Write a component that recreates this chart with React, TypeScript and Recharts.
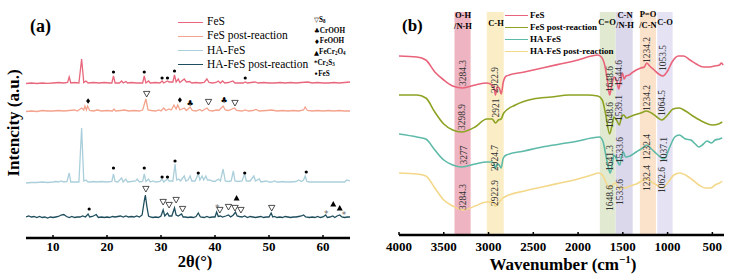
import React from 'react';
import { ComposedChart, Line, Scatter, XAxis, YAxis, ReferenceArea } from 'recharts';

// ---------------- Panel (a): XRD ----------------
const XRD_NAMES = ['FeS', 'FeS post-reaction', 'HA-FeS', 'HA-FeS post-reaction'];
const XRD_COLORS = ['#e8677c', '#f4a38d', '#aacfdb', '#1f4f5e'];
const XRD_OFFSETS = [154, 126, 55, 19];
const XRD_TICKS = [10, 20, 30, 40, 50, 60];

const xrdFeS: [number, number][] = [
  [5, 0.5], [6, 1], [7, 0.5], [8, 1], [9, 0.6], [10, 1], [11, 1.5], [12, 1], [12.7, 1.5], [13, 7], [13.3, 1],
  [14, 1.5], [14.8, 1], [15.3, 25], [15.7, 1.5], [16.1, 3], [16.5, 1], [17.5, 1.5], [18.5, 1], [19.5, 1.5],
  [20.5, 1], [20.9, 1], [21.2, 8], [21.5, 1], [22.3, 1], [22.7, 3], [23, 1], [23.5, 2.5], [23.8, 1], [24.5, 1.5],
  [25.5, 1], [26.3, 1], [26.6, 1], [26.9, 8], [27.2, 1], [27.7, 3], [28, 1], [29, 1.5], [29.8, 1], [30.2, 3],
  [30.5, 1], [31.2, 3], [31.5, 2], [32.2, 2], [32.5, 9], [32.8, 2], [33.2, 5], [33.5, 1.5], [34.3, 5], [34.7, 2],
  [35.3, 2.5], [35.7, 1], [36.5, 1.5], [37.2, 1], [38, 1.5], [38.5, 5], [38.9, 1.5], [39.5, 1], [40.2, 1.5],
  [40.6, 3], [41, 1], [41.4, 3], [41.8, 1], [42.5, 1.5], [43.3, 3], [43.7, 1], [44.5, 1], [45.2, 1], [45.6, 2],
  [46, 1], [47.4, 2], [48, 1], [49, 1.5], [50, 1], [51, 1], [52, 1.5], [53, 1], [54, 1.5], [55, 1], [56, 1.5],
  [57.2, 2], [58, 1], [59, 1.5], [60, 1], [61, 1], [62, 1.5], [63, 1], [64, 1.5], [65, 2],
];
const xrdFeSPost: [number, number][] = [
  [5, 0.5], [6, 1], [7, 0.5], [8, 1.5], [9, 1], [10, 1], [11, 1.5], [12, 1], [13, 1.5], [14, 2], [14.5, 1],
  [15.3, 4], [15.7, 2], [15.9, 6], [16.2, 2], [16.4, 6], [16.8, 1.5], [17.5, 1], [18.2, 2], [19, 1], [20, 1.5],
  [21, 1], [21.3, 3], [21.6, 1], [22.5, 1.5], [23.3, 2], [24, 1], [25, 1.5], [26, 1], [26.6, 2], [27.2, 13],
  [27.6, 2], [28.2, 1.5], [29, 1], [29.6, 2], [30, 1], [30.5, 4], [30.9, 1.5], [31.5, 3], [31.9, 2], [32.4, 7],
  [32.8, 3], [33.1, 7], [33.5, 2], [34.3, 4], [34.7, 1.5], [35.4, 5], [35.8, 1.5], [36.5, 1], [37.2, 2.5],
  [37.6, 1], [38.5, 4], [38.9, 1.5], [39.5, 1], [40.3, 2], [40.7, 1.5], [41.5, 6], [41.9, 2], [42.5, 1.5],
  [43.6, 4], [44, 1.5], [45, 1], [45.6, 2], [46.2, 1], [47, 1.5], [47.6, 2.5], [48.2, 1], [49.5, 1.5], [50.5, 2],
  [51.5, 1], [52.5, 1.5], [53.5, 1], [54.5, 1.5], [55.5, 1], [56.4, 2], [56.7, 5], [57.1, 1.5], [58, 1],
  [59, 1.5], [60, 1], [61, 1.5], [62, 1], [63, 1.5], [64, 1], [65, 1],
];
const xrdHA: [number, number][] = [
  [5, 0], [6, 0.5], [7, 0.5], [8, 1], [9, 0.5], [10, 1], [10.5, 1.5], [11, 1], [11.5, 2], [12, 1], [12.6, 1.5],
  [13, 10], [13.3, 1], [14, 1], [14.8, 1], [15.3, 55], [15.7, 2], [16.1, 3], [16.5, 1], [17, 1], [17.5, 1.5],
  [18, 1], [19, 1.5], [20, 1], [20.9, 1.5], [21.2, 9], [21.5, 1.5], [22, 1], [22.7, 5], [23, 1], [23.5, 4],
  [23.8, 1], [24.5, 1.5], [25.3, 2], [25.6, 4], [26, 1], [26.6, 1.5], [26.9, 9], [27.2, 1.5], [27.7, 4], [28, 1],
  [28.5, 2], [29, 1], [29.8, 1.5], [30.2, 4], [30.5, 1], [31.2, 4], [31.5, 2], [32.2, 2], [32.6, 19], [32.9, 3],
  [33.3, 4], [33.6, 2], [34.3, 7], [34.6, 2], [35, 3], [35.4, 7], [35.7, 2], [36.3, 2], [36.9, 9], [37.2, 3],
  [37.6, 7], [37.9, 3], [38.3, 7], [38.6, 3], [39, 3], [39.5, 2], [40, 1.5], [40.6, 4], [41, 2], [41.5, 14],
  [41.9, 2], [42.5, 1.5], [43, 2], [43.4, 12], [43.7, 2], [44.3, 1.5], [45, 2], [45.5, 9], [45.8, 2], [46.5, 2],
  [47.2, 7], [47.5, 2], [48.2, 4], [48.5, 1], [49, 1.5], [49.5, 2], [50, 1], [50.5, 1], [51, 2], [51.5, 1],
  [52, 1], [52.5, 1.5], [53, 1], [54, 1], [55, 1.5], [55.5, 3], [56, 1.5], [56.4, 3], [56.7, 7], [57, 1.5],
  [57.5, 1], [58, 1], [59, 1], [60, 1], [61, 1], [62, 1], [63, 1], [64, 1], [64.4, 3], [65, 2],
];
const xrdHAPost: [number, number][] = [
  [5, 2], [5.5, 3], [6, 2], [6.5, 2.5], [7, 1.5], [7.5, 2.5], [8, 1.5], [8.5, 2], [9, 1], [9.5, 2], [10, 1.5],
  [10.5, 2], [11, 2.5], [11.5, 4], [12, 4.5], [12.5, 2.5], [13, 1.5], [13.5, 2.5], [14, 1.5], [14.5, 2], [15, 2],
  [15.5, 3], [16, 2], [16.5, 5], [16.8, 2], [17.3, 2.5], [18, 4.5], [18.4, 1.5], [19, 2], [19.5, 1.5], [20, 2],
  [20.5, 1.5], [21, 2.5], [21.5, 2], [22, 2.5], [22.5, 3], [23, 2], [23.5, 3], [24, 2], [24.5, 2.5], [25, 2],
  [25.5, 3], [26, 2], [26.5, 4], [26.9, 18], [27.1, 24], [27.4, 12], [27.7, 3], [28, 2], [28.5, 1.5], [29, 2],
  [29.5, 1.5], [30, 3], [30.4, 9], [30.7, 3], [31.2, 6], [31.5, 3], [32, 3], [32.5, 11], [32.8, 4], [33.2, 3],
  [33.8, 5], [34.1, 2], [34.5, 2], [35, 1.5], [35.5, 2], [36, 1.5], [36.5, 2.5], [36.9, 6], [37.3, 2], [38, 1.5],
  [38.5, 2.5], [39, 1.5], [39.5, 2], [40, 2], [40.3, 7], [40.6, 2.5], [41, 3], [41.4, 2], [42, 3], [42.5, 4],
  [42.9, 2], [43.4, 4], [43.8, 7], [44.1, 3], [44.5, 2.5], [45, 2], [45.5, 3], [46, 1.5], [46.5, 2.5], [47, 2],
  [47.5, 1.5], [48, 2], [48.5, 2.5], [49, 1.5], [49.5, 2], [50, 2], [50.4, 6], [50.7, 2], [51, 2.5], [51.5, 1.5],
  [52, 2], [52.5, 1.5], [53, 2.5], [53.5, 2], [54, 1.5], [54.5, 2], [55, 2], [55.5, 2.5], [56, 3], [56.4, 4],
  [56.8, 2], [57.5, 1.5], [58, 2], [58.5, 1.5], [59, 2.5], [59.5, 1.5], [60, 2], [60.5, 4], [60.8, 1.5],
  [61.3, 2], [61.8, 3], [62.2, 1.5], [62.6, 3], [63.1, 4], [63.5, 2], [64, 1.5], [64.5, 2], [65, 2],
];
const XRD_SERIES = [xrdFeS, xrdFeSPost, xrdHA, xrdHAPost];

// phase markers: series index, 2theta, height above that pattern's offset, symbol
const xrdMarkers: [number, number, number, string][] = [
  [0, 21.2, 12, 'dot'], [0, 26.9, 12, 'dot'], [0, 30.2, 6, 'dot'], [0, 31.2, 6, 'dot'], [0, 32.5, 13, 'dot'], [0, 45.6, 6, 'dot'],
  [1, 16.5, 11, 'diamond'], [1, 27.35, 18, 'tri'], [1, 33.5, 12, 'diamond'], [1, 35.4, 9, 'club'], [1, 38.8, 10, 'tri'],
  [1, 41.7, 12, 'club'], [1, 43.7, 9, 'tri'],
  [2, 21.2, 15, 'dot'], [2, 26.9, 15, 'dot'], [2, 30.2, 6, 'dot'], [2, 31.2, 6, 'dot'], [2, 32.6, 22, 'dot'],
  [2, 36.9, 10, 'dot'], [2, 45.5, 10, 'dot'], [2, 56.9, 11, 'dot'],
  [3, 16.7, 10, 'dot'], [3, 27.2, 30, 'tri'], [3, 30.4, 17, 'tri'], [3, 31.5, 14, 'tri'], [3, 32.8, 19, 'tri'],
  [3, 34.0, 10, 'tri'], [3, 40.4, 14, 'star'], [3, 40.9, 9, 'tri'], [3, 42.5, 12, 'tri'], [3, 43.7, 11, 'tri'],
  [3, 44.0, 21, 'up'], [3, 44.8, 9, 'tri'], [3, 50.5, 11, 'tri'], [3, 60.6, 8, 'star'], [3, 61.9, 15, 'up'],
  [3, 63.1, 11, 'up'], [3, 63.9, 7, 'star'],
];

// ---------------- Panel (b): FTIR ----------------
const FTIR_NAMES = ['FeS', 'FeS post-reaction', 'HA-FeS', 'HA-FeS post-reaction'];
const FTIR_COLORS = ['#e9637a', '#8ca323', '#5dbaa8', '#f4d88a'];
const FTIR_OFFSETS = [100, 60, 25, 0];
const FTIR_TICKS = [500, 1000, 1500, 2000, 2500, 3000, 3500, 4000];

const ftirFeS: [number, number][] = [
  [4000, 79], [3800, 78], [3700, 75], [3600, 63], [3500, 55], [3400, 49], [3290, 47], [3150, 50], [3020, 52],
  [2960, 50], [2935, 46], [2922, 40], [2905, 48], [2880, 47], [2858, 41], [2835, 53], [2800, 59], [2600, 63],
  [2400, 67], [2200, 71], [2000, 75], [1850, 79], [1780, 80], [1740, 78], [1700, 69], [1670, 53], [1648, 40],
  [1625, 49], [1600, 58], [1570, 55], [1545, 46], [1525, 55], [1505, 62], [1485, 56], [1465, 59], [1430, 60],
  [1400, 62], [1350, 65], [1300, 67], [1260, 68], [1234, 72], [1200, 69], [1150, 65], [1100, 61], [1053, 59],
  [1000, 64], [950, 73], [880, 79], [820, 79], [750, 75], [680, 71], [600, 68], [540, 68], [480, 69], [420, 70],
  [400, 72], [380, 70],
];
const ftirFeSPost: [number, number][] = [
  [4000, 80], [3800, 80], [3700, 77], [3600, 63], [3500, 51], [3400, 45], [3300, 43], [3150, 48], [3020, 56],
  [2960, 56], [2921, 52], [2890, 55], [2860, 56], [2830, 62], [2700, 70], [2500, 76], [2300, 78], [2100, 80],
  [1900, 80], [1780, 79], [1730, 75], [1690, 60], [1648, 41], [1620, 50], [1600, 58], [1570, 55], [1539, 50],
  [1515, 58], [1490, 60], [1460, 57], [1400, 59], [1300, 62], [1234, 64], [1180, 62], [1120, 58], [1064, 55],
  [1000, 60], [940, 66], [870, 67], [800, 64], [700, 58], [600, 53], [500, 50], [430, 51], [390, 53],
];
const ftirHA: [number, number][] = [
  [4000, 76], [3800, 73], [3700, 71], [3600, 60], [3500, 50], [3400, 45], [3300, 43], [3150, 46], [3020, 48],
  [2960, 48], [2935, 45], [2924, 41], [2905, 46], [2880, 45], [2860, 42], [2835, 52], [2800, 55], [2600, 59],
  [2400, 63], [2200, 66], [2000, 69], [1850, 72], [1760, 73], [1720, 68], [1690, 55], [1660, 42], [1641, 37],
  [1620, 45], [1600, 55], [1570, 51], [1534, 45], [1515, 53], [1495, 58], [1470, 53], [1420, 54], [1350, 58],
  [1280, 62], [1232, 65], [1180, 61], [1120, 56], [1037, 51], [980, 62], [920, 73], [870, 75], [800, 71],
  [740, 70], [690, 66], [650, 63], [600, 66], [560, 69], [510, 67], [470, 70], [420, 71], [390, 72],
];
const ftirHAPost: [number, number][] = [
  [4000, 62], [3800, 61], [3700, 59], [3600, 47], [3500, 35], [3400, 29], [3284, 25], [3150, 29], [3020, 33],
  [2960, 33], [2923, 29], [2890, 32], [2840, 37], [2800, 39], [2600, 44], [2400, 48], [2200, 52], [2000, 56],
  [1850, 60], [1770, 62], [1720, 59], [1680, 51], [1648, 46], [1620, 49], [1590, 52], [1560, 49], [1534, 45],
  [1510, 48], [1480, 47], [1420, 49], [1350, 51], [1290, 54], [1232, 56], [1180, 53], [1120, 50], [1062, 47],
  [1000, 52], [930, 60], [860, 62], [800, 60], [720, 55], [650, 50], [580, 47], [520, 47], [470, 50], [420, 52],
  [390, 54],
];
const FTIR_SERIES = [ftirFeS, ftirFeSPost, ftirHA, ftirHAPost];

// band assignments: from, to, fill, label lines
const FTIR_BANDS: [number, number, string, string[]][] = [
  [3200, 3380, '#efb4c1', ['O-H', '/N-H']],
  [2830, 3020, '#fbeec6', ['C-H']],
  [1580, 1757, '#e1ead0', ['C=O']],
  [1390, 1580, '#dcd8ec', ['C-N', '/N-H']],
  [1130, 1310, '#fbe2cb', ['P=O', '/C-N']],
  [944, 1116, '#e5e3f3', ['C-O']],
];

// peak labels: series index, wavenumber, height relative to series, text
const ftirPeaks: [number, number, number, string][] = [
  [0, 3284.3, 62, '3284.3'], [0, 2922.9, 55, '2922.9'], [0, 1648.6, 56, '1648.6'], [0, 1544.6, 62, '1544.6'],
  [0, 1234.2, 85, '1234.2'], [0, 1053.5, 77, '1053.5'],
  [1, 3298.9, 58, '3298.9'], [1, 2921, 67, '2921'], [1, 1648.6, 60, '1648.6'], [1, 1539.1, 67, '1539.1'],
  [1, 1234.2, 77, '1234.2'], [1, 1064.5, 72, '1064.5'],
  [2, 3277, 55, '3277'], [2, 2924.7, 52, '2924.7'], [2, 1641.3, 52, '1641.3'], [2, 1533.6, 60, '1533.6'],
  [2, 1232.4, 63, '1232.4'], [2, 1037.1, 60, '1037.1'],
  [3, 3284.3, 38, '3284.3'], [3, 2922.9, 42, '2922.9'], [3, 1648.6, 37, '1648.6'], [3, 1533.6, 43, '1533.6'],
  [3, 1232.4, 57, '1232.4'], [3, 1062.6, 55, '1062.6'],
];

const SERIF = '"Liberation Serif", "Times New Roman", serif';

const MarkerShape = (p: any) => {
  const { cx, cy, payload } = p;
  if (cx == null || cy == null) return null;
  const s = payload.sym;
  if (s === 'dot') return <circle cx={cx} cy={cy} r={1.6} fill="#000" />;
  if (s === 'tri')
    return <path d={`M${cx - 3.2},${cy - 2.6}L${cx + 3.2},${cy - 2.6}L${cx},${cy + 3}Z`} fill="#fff" stroke="#222" strokeWidth={0.8} />;
  if (s === 'diamond') return <path d={`M${cx},${cy - 2.8}L${cx + 2},${cy}L${cx},${cy + 2.8}L${cx - 2},${cy}Z`} fill="#000" />;
  if (s === 'up') return <path d={`M${cx},${cy - 3}L${cx + 3},${cy + 2.5}L${cx - 3},${cy + 2.5}Z`} fill="#000" />;
  if (s === 'club')
    return (
      <text x={cx} y={cy} textAnchor="middle" dominantBaseline="central" fontSize={8} fill="#000" fontFamily="DejaVu Sans">
        ♣
      </text>
    );
  return (
    <text x={cx} y={cy + 2.5} textAnchor="middle" dominantBaseline="central" fontSize={9} fill="#666" fontFamily="DejaVu Sans">
      *
    </text>
  );
};

const PeakLabel = (p: any) => {
  const { cx, cy, payload } = p;
  if (cx == null || cy == null) return null;
  return (
    <text
      x={cx}
      y={cy}
      transform={`rotate(-90 ${cx} ${cy})`}
      textAnchor="middle"
      dominantBaseline="central"
      fontSize={9.5}
      fontFamily={SERIF}
      fill="#333"
    >
      {payload.t}
    </text>
  );
};

const SerifTick = (p: any) => {
  const { x, y, payload } = p;
  return (
    <text x={x} y={y} dy={9.2} textAnchor="middle" fontFamily={SERIF} fontSize={13} fontWeight={700} fill="#000">
      {payload.value}
    </text>
  );
};

function XrdPanel() {
  const series = XRD_SERIES.map((arr, i) => arr.map(([x, v]) => ({ x, y: v + XRD_OFFSETS[i] })));
  const markers = xrdMarkers.map(([s, x, v, sym]) => ({ x, y: v + XRD_OFFSETS[s], sym }));
  return (
    <ComposedChart width={370} height={280} margin={{ top: 12, right: 20, bottom: 12, left: 26 }}>
      <XAxis
        dataKey="x"
        type="number"
        domain={[5, 65]}
        ticks={XRD_TICKS}
        allowDataOverflow
        height={30}
        tickSize={-3}
        tickMargin={7}
        axisLine={{ stroke: '#000', strokeWidth: 2.5 }}
        tickLine={{ stroke: '#000', strokeWidth: 1.5 }}
        tick={<SerifTick />}
      />
      <XAxis xAxisId="top" orientation="top" type="number" domain={[5, 65]} height={0} tick={false} tickLine={false} axisLine={{ stroke: '#000', strokeWidth: 2.5 }} />
      <YAxis type="number" domain={[0, 226]} width={0} tick={false} tickLine={false} axisLine={{ stroke: '#000', strokeWidth: 2.5 }} />
      <YAxis yAxisId="r" orientation="right" type="number" domain={[0, 226]} width={0} tick={false} tickLine={false} axisLine={{ stroke: '#000', strokeWidth: 2.5 }} />
      {series.map((d, i) => (
        <Line
          key={XRD_NAMES[i]}
          name={XRD_NAMES[i]}
          data={d}
          dataKey="y"
          type="linear"
          stroke={XRD_COLORS[i]}
          strokeWidth={1.3}
          dot={false}
          isAnimationActive={false}
        />
      ))}
      <Scatter data={markers} dataKey="y" shape={MarkerShape} isAnimationActive={false} />
    </ComposedChart>
  );
}

function FtirPanel() {
  const series = FTIR_SERIES.map((arr, i) => arr.map(([x, v]) => ({ x, y: v + FTIR_OFFSETS[i] })));
  const labels = ftirPeaks.map(([s, x, v, t]) => ({ x, y: v + FTIR_OFFSETS[s], t }));
  return (
    <ComposedChart width={362} height={280} margin={{ top: 12, right: 8, bottom: 15, left: 29 }}>
      <XAxis
        dataKey="x"
        type="number"
        domain={[370, 4000]}
        reversed
        ticks={FTIR_TICKS}
        allowDataOverflow
        height={30}
        tickSize={-3}
        tickMargin={10}
        axisLine={{ stroke: '#000', strokeWidth: 2.5 }}
        tickLine={{ stroke: '#000', strokeWidth: 1.5 }}
        tick={<SerifTick />}
      />
      <XAxis xAxisId="top" orientation="top" type="number" domain={[370, 4000]} reversed height={0} tick={false} tickLine={false} axisLine={{ stroke: '#000', strokeWidth: 2.5 }} />
      <YAxis type="number" domain={[0, 223]} width={0} tick={false} tickLine={false} axisLine={{ stroke: '#000', strokeWidth: 2.5 }} />
      <YAxis yAxisId="r" orientation="right" type="number" domain={[0, 223]} width={0} tick={false} tickLine={false} axisLine={{ stroke: '#000', strokeWidth: 2.5 }} />
      {FTIR_BANDS.map(([a, b, fill], i) => (
        <ReferenceArea key={i} x1={a} x2={b} y1={0} y2={223} fill={fill} fillOpacity={1} stroke="none" ifOverflow="hidden" />
      ))}
      {series.map((d, i) => (
        <Line
          key={FTIR_NAMES[i]}
          name={FTIR_NAMES[i]}
          data={d}
          dataKey="y"
          type="monotone"
          stroke={FTIR_COLORS[i]}
          strokeWidth={1.6}
          dot={false}
          isAnimationActive={false}
        />
      ))}
      <Scatter data={labels} dataKey="y" shape={PeakLabel} isAnimationActive={false} />
    </ComposedChart>
  );
}

const abs = (left: number, top: number, extra: React.CSSProperties = {}): React.CSSProperties => ({
  position: 'absolute',
  left,
  top,
  whiteSpace: 'nowrap',
  lineHeight: 1,
  ...extra,
});

const SYMBOL_LEGEND: [string, React.ReactNode][] = [
  ['▽ ', <>S<sub>8</sub></>],
  ['♣', <>CrOOH</>],
  ['♦', <>FeOOH</>],
  ['▲', <>FeCr<sub>2</sub>O<sub>4</sub></>],
  ['*', <>Cr<sub>2</sub>S<sub>3</sub></>],
  ['•', <>FeS</>],
];

export default function App() {
  const subStyle = `sub{font-size:0.7em;vertical-align:-0.25em;line-height:0}`;
  return (
    <div style={{ position: 'absolute', left: 0, top: 0, width: 732, height: 280, background: '#fff', overflow: 'hidden' }}>
      <style>{subStyle}</style>
      <div style={abs(0, 0)}>
        <XrdPanel />
      </div>
      <div style={abs(370, 0)}>
        <FtirPanel />
      </div>

      {/* Panel (a) annotations */}
      <div style={abs(30, 17, { fontFamily: SERIF, fontWeight: 700, fontSize: 18 })}>(a)</div>
      {XRD_NAMES.map((n, i) => (
        <div key={n} style={abs(178, 15 + i * 14.2, { display: 'flex', alignItems: 'center', height: 14 })}>
          <div style={{ width: 25, height: 0, borderTop: `1.5px solid ${XRD_COLORS[i]}` }} />
          <span style={{ marginLeft: 4, fontFamily: SERIF, fontSize: 11.5 }}>{n}</span>
        </div>
      ))}
      {SYMBOL_LEGEND.map(([sym, txt], i) => (
        <div
          key={i}
          style={abs(314, 16 + i * 10.8, { fontFamily: SERIF, fontWeight: 700, fontSize: 7.2, height: 9, display: 'flex', alignItems: 'center' })}
        >
          <span style={{ fontFamily: 'DejaVu Sans', fontSize: 6.5 }}>{sym}</span>
          <span>{txt}</span>
        </div>
      ))}
      <div
        style={abs(13, 123, {
          fontFamily: SERIF,
          fontWeight: 700,
          fontSize: 17,
          transform: 'translate(-50%, -50%) rotate(-90deg)',
        })}
      >
        Intencity (a.u.)
      </div>
      <div style={abs(195, 262, { fontFamily: SERIF, fontWeight: 700, fontSize: 16.5, transform: 'translate(-50%, -50%)' })}>
        2θ(°)
      </div>

      {/* Panel (b) annotations */}
      <div style={abs(402, 17, { fontFamily: SERIF, fontWeight: 700, fontSize: 17 })}>(b)</div>
      {FTIR_NAMES.map((n, i) => (
        <div key={n} style={abs(505, 9 + i * 12, { display: 'flex', alignItems: 'center', height: 12 })}>
          <div style={{ width: 23, height: 0, borderTop: `1.5px solid ${FTIR_COLORS[i]}` }} />
          <span style={{ marginLeft: 2, fontFamily: SERIF, fontWeight: 700, fontSize: 9 }}>{n}</span>
        </div>
      ))}
      {[
        [463, 15, 26],
        [496, 23, 0],
        [607, 22, 0],
        [625, 15, 25],
        [648, 14, 25],
        [665, 22, 0],
      ].map(([x, y1, y2], i) =>
        FTIR_BANDS[i][3].map((t, j) => (
          <div
            key={`${i}-${j}`}
            style={abs(x, j === 0 ? y1 : y2, { fontFamily: SERIF, fontWeight: 700, fontSize: 8.5, transform: 'translate(-50%, -50%)' })}
          >
            {t}
          </div>
        ))
      )}
      <div style={abs(563, 264, { fontFamily: SERIF, fontWeight: 700, fontSize: 17, transform: 'translate(-50%, -50%)' })}>
        Wavenumber (cm<sup style={{ fontSize: '0.65em', verticalAlign: '0.6em', lineHeight: 0 }}>−1</sup>)
      </div>
    </div>
  );
}
